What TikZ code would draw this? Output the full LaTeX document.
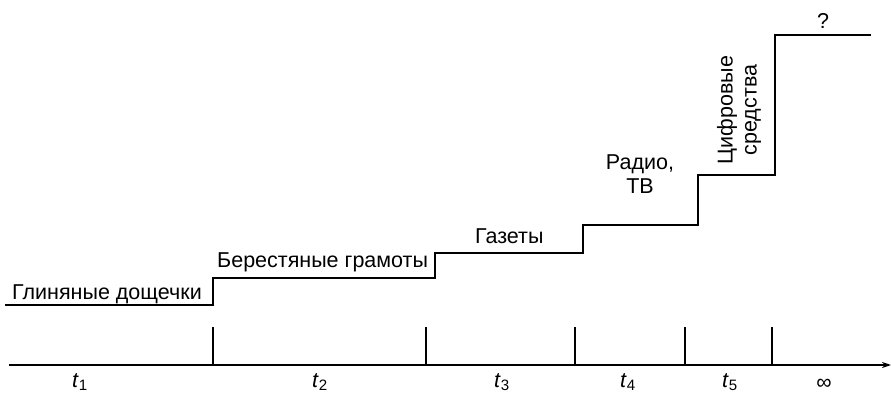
\documentclass[tikz,border=0pt]{standalone}
\usepackage{fontspec}
\setmainfont{Liberation Sans}
\usetikzlibrary{arrows.meta}

\begin{document}
\begin{tikzpicture}[x=1pt,y=-1pt,
    lbl/.style={font=\fontsize{21.5}{24}\selectfont, inner sep=0pt},
    stair/.style={line width=2.6pt, line join=miter},
    tick/.style={line width=2pt}]
                \useasboundingbox (0,0) rectangle (891,393);

                % Axis
                \coordinate (A0) at (9,365);
                \coordinate (A1) at (891,365);
                \draw[line width=1.5pt, -{Stealth[length=9pt,width=6pt]}] (A0) -- (A1);

                % Ticks
                \foreach \x in {213,426,575,685,772}
                    \draw[tick] (\x,327) -- (\x,366);

                % Period labels
                \node[lbl] (t1) at (80,382) {\textit{t}\textsubscript{1}};
                \node[lbl] (t2) at (320,382) {\textit{t}\textsubscript{2}};
                \node[lbl] (t3) at (502,382) {\textit{t}\textsubscript{3}};
                \node[lbl] (t4) at (628,382) {\textit{t}\textsubscript{4}};
                \node[lbl] (t5) at (730,382) {\textit{t}\textsubscript{5}};
                \node[lbl] (inf) at (824,384) {∞};

                % Stairs
                \coordinate (S0) at (5,305);
                \coordinate (S1) at (213,305);
                \coordinate (S2) at (213,278);
                \coordinate (S3) at (435,278);
                \coordinate (S4) at (435,253);
                \coordinate (S5) at (583,253);
                \coordinate (S6) at (583,225);
                \coordinate (S7) at (698,225);
                \coordinate (S8) at (698,175);
                \coordinate (S9) at (775,175);
                \coordinate (S10) at (775,35);
                \coordinate (S11) at (871,35);
                \draw[stair] (S0) -- (S1) -- (S2) -- (S3) -- (S4) -- (S5)
                    -- (S6) -- (S7) -- (S8) -- (S9) -- (S10) -- (S11);

                % Media labels
                \node[lbl, anchor=base west] (clay) at (12,299) {Глиняные дощечки};
                \node[lbl, anchor=base west] (birch) at (217,267) {Берестяные грамоты};
                \node[lbl, anchor=base west] (news) at (475,243) {Газеты};
                \node[lbl, anchor=base, align=center] (radio) at (640,193) {Радио,\\ТВ};
                \node[lbl, align=center, rotate=90] (digit) at (739,110) {Цифровые\\средства};
                \node[lbl] (unknown) at (823,21) {?};
            \end{tikzpicture}
\end{document}
